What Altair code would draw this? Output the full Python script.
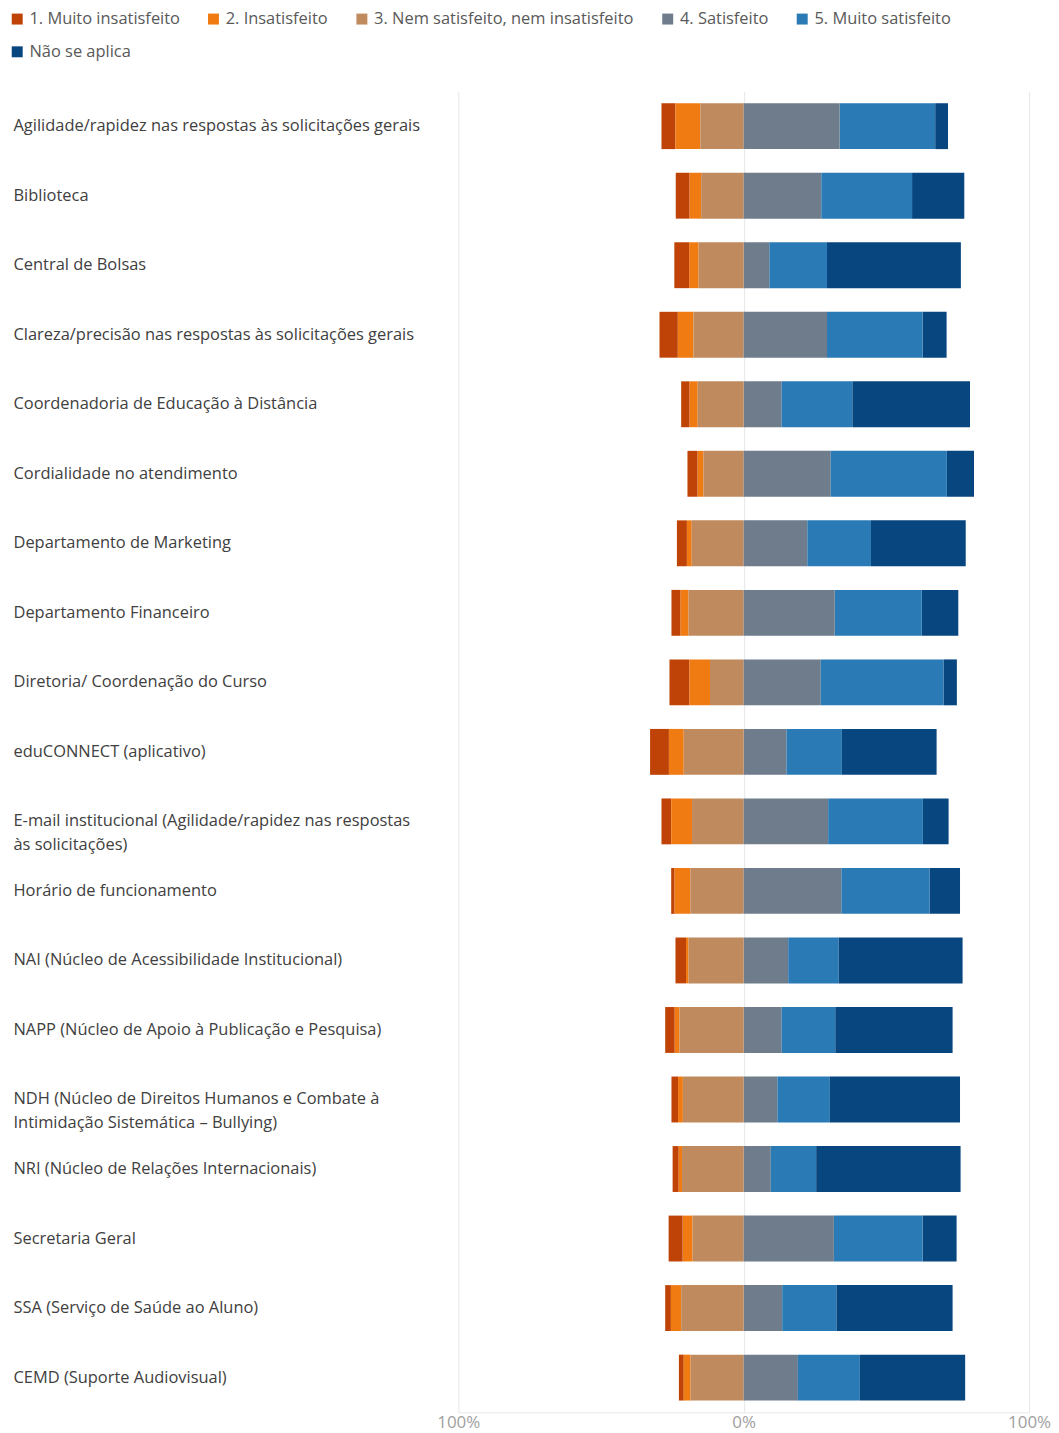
import altair as alt
import pandas as pd

categories = [
    "Agilidade/rapidez nas respostas às solicitações gerais",
    "Biblioteca",
    "Central de Bolsas",
    "Clareza/precisão nas respostas às solicitações gerais",
    "Coordenadoria de Educação à Distância",
    "Cordialidade no atendimento",
    "Departamento de Marketing",
    "Departamento Financeiro",
    "Diretoria/ Coordenação do Curso",
    "eduCONNECT (aplicativo)",
    "E-mail institucional (Agilidade/rapidez nas respostas às solicitações)",
    "Horário de funcionamento",
    "NAI (Núcleo de Acessibilidade Institucional)",
    "NAPP (Núcleo de Apoio à Publicação e Pesquisa)",
    "NDH (Núcleo de Direitos Humanos e Combate à Intimidação Sistemática – Bullying)",
    "NRI (Núcleo de Relações Internacionais)",
    "Secretaria Geral",
    "SSA (Serviço de Saúde ao Aluno)",
    "CEMD (Suporte Audiovisual)",
]

wrapped_labels = {
    "E-mail institucional (Agilidade/rapidez nas respostas às solicitações)":
        ["E-mail institucional (Agilidade/rapidez nas respostas", "às solicitações)"],
    "NDH (Núcleo de Direitos Humanos e Combate à Intimidação Sistemática – Bullying)":
        ["NDH (Núcleo de Direitos Humanos e Combate à", "Intimidação Sistemática – Bullying)"],
}

muito_insatisfeito = [4.9, 4.8, 5.2, 6.4, 2.9, 3.5, 3.5, 3.1, 7.0, 6.6, 3.4, 1.2, 3.7, 3.3, 2.3, 2.1, 4.9, 2.0, 1.7]
insatisfeito       = [8.7, 4.1, 3.3, 5.5, 2.9, 2.1, 1.7, 2.9, 7.2, 5.2, 7.3, 5.5, 0.9, 1.7, 1.7, 1.2, 3.5, 3.6, 2.4]
neutro             = [15.2, 14.9, 15.8, 17.6, 16.1, 14.1, 18.2, 19.3, 11.8, 21.0, 18.1, 18.7, 19.3, 22.5, 21.3, 21.6, 17.9, 21.9, 18.6]
satisfeito         = [33.6, 27.2, 9.0, 29.2, 13.3, 30.5, 22.3, 31.9, 27.0, 15.0, 29.6, 34.2, 15.6, 13.3, 11.8, 9.5, 31.6, 13.5, 19.0]
muito_satisfeito   = [33.5, 31.8, 20.2, 33.5, 24.8, 40.7, 22.3, 30.5, 43.0, 19.4, 33.2, 30.9, 17.7, 18.8, 18.4, 15.9, 31.1, 19.0, 21.7]
nao_se_aplica      = [4.5, 18.3, 46.9, 8.4, 41.2, 9.5, 33.2, 12.8, 4.7, 33.2, 9.0, 10.7, 43.4, 41.1, 45.6, 50.6, 11.9, 40.7, 36.9]

levels = [
    "1. Muito insatisfeito",
    "2. Insatisfeito",
    "3. Nem satisfeito, nem insatisfeito",
    "4. Satisfeito",
    "5. Muito satisfeito",
    "Não se aplica",
]
colors = ["#BF4307", "#F07B12", "#C08A5F", "#6E7C8C", "#2A7AB5", "#08467F"]

rows = []
for i, cat in enumerate(categories):
    neg = [(levels[2], neutro[i]), (levels[1], insatisfeito[i]), (levels[0], muito_insatisfeito[i])]
    pos = [(levels[3], satisfeito[i]), (levels[4], muito_satisfeito[i]), (levels[5], nao_se_aplica[i])]
    edge = 0.0
    for lev, v in neg:
        rows.append({"cat": cat, "level": lev, "start": edge - v, "end": edge, "value": v})
        edge -= v
    edge = 0.0
    for lev, v in pos:
        rows.append({"cat": cat, "level": lev, "start": edge, "end": edge + v, "value": v})
        edge += v
df = pd.DataFrame(rows)

label_expr = "datum.label"
for full, parts in wrapped_labels.items():
    arr = "[" + ", ".join("'" + p + "'" for p in parts) + "]"
    label_expr = f"datum.value == '{full}' ? {arr} : (" + label_expr + ")"

FONT = "Open Sans"

chart = alt.Chart(df).mark_bar().encode(
    x=alt.X(
        "start:Q",
        scale=alt.Scale(domain=[-100, 100], nice=False, zero=False),
        axis=alt.Axis(
            values=[-100, 0, 100],
            labelExpr="abs(datum.value) + '%'",
            title=None,
            grid=True,
            gridColor="#e6e6e6",
            ticks=False,
            domainColor="#e6e6e6",
            labelColor="#a0a0a0",
            labelFont=FONT,
            labelFontSize=17,
            labelPadding=2,
            labelFlush=False,
        ),
    ),
    x2="end:Q",
    y=alt.Y(
        "cat:N",
        sort=categories,
        scale=alt.Scale(paddingInner=0.34, paddingOuter=0.17),
        axis=alt.Axis(
            title=None,
            ticks=False,
            tickSize=0,
            domain=False,
            grid=False,
            labelAlign="left",
            labelPadding=447,
            labelLimit=440,
            labelFont=FONT,
            labelFontSize=16.5,
            labelColor="#404040",
            labelLineHeight=24,
            labelExpr=label_expr,
        ),
    ),
    color=alt.Color(
        "level:N",
        scale=alt.Scale(domain=levels, range=colors),
        legend=alt.Legend(
            orient="none",
            legendX=-451,
            legendY=-81,
            direction="horizontal",
            columns=5,
            title=None,
            padding=0,
            symbolType="square",
            symbolSize=121,
            symbolStrokeWidth=0,
            labelFont=FONT,
            labelFontSize=16.5,
            labelLimit=400,
            labelColor="#595959",
            labelOffset=4,
            columnPadding=25,
            rowPadding=16,
        ),
    ),
    order=alt.Order("value:Q", sort="ascending"),
).properties(
    width=573,
    height=1326,
    padding={"left": 1, "top": 0, "right": 0, "bottom": 0},
).configure_view(stroke=None)

chart.save("out.html", embed_options={"renderer": "svg", "actions": False})
